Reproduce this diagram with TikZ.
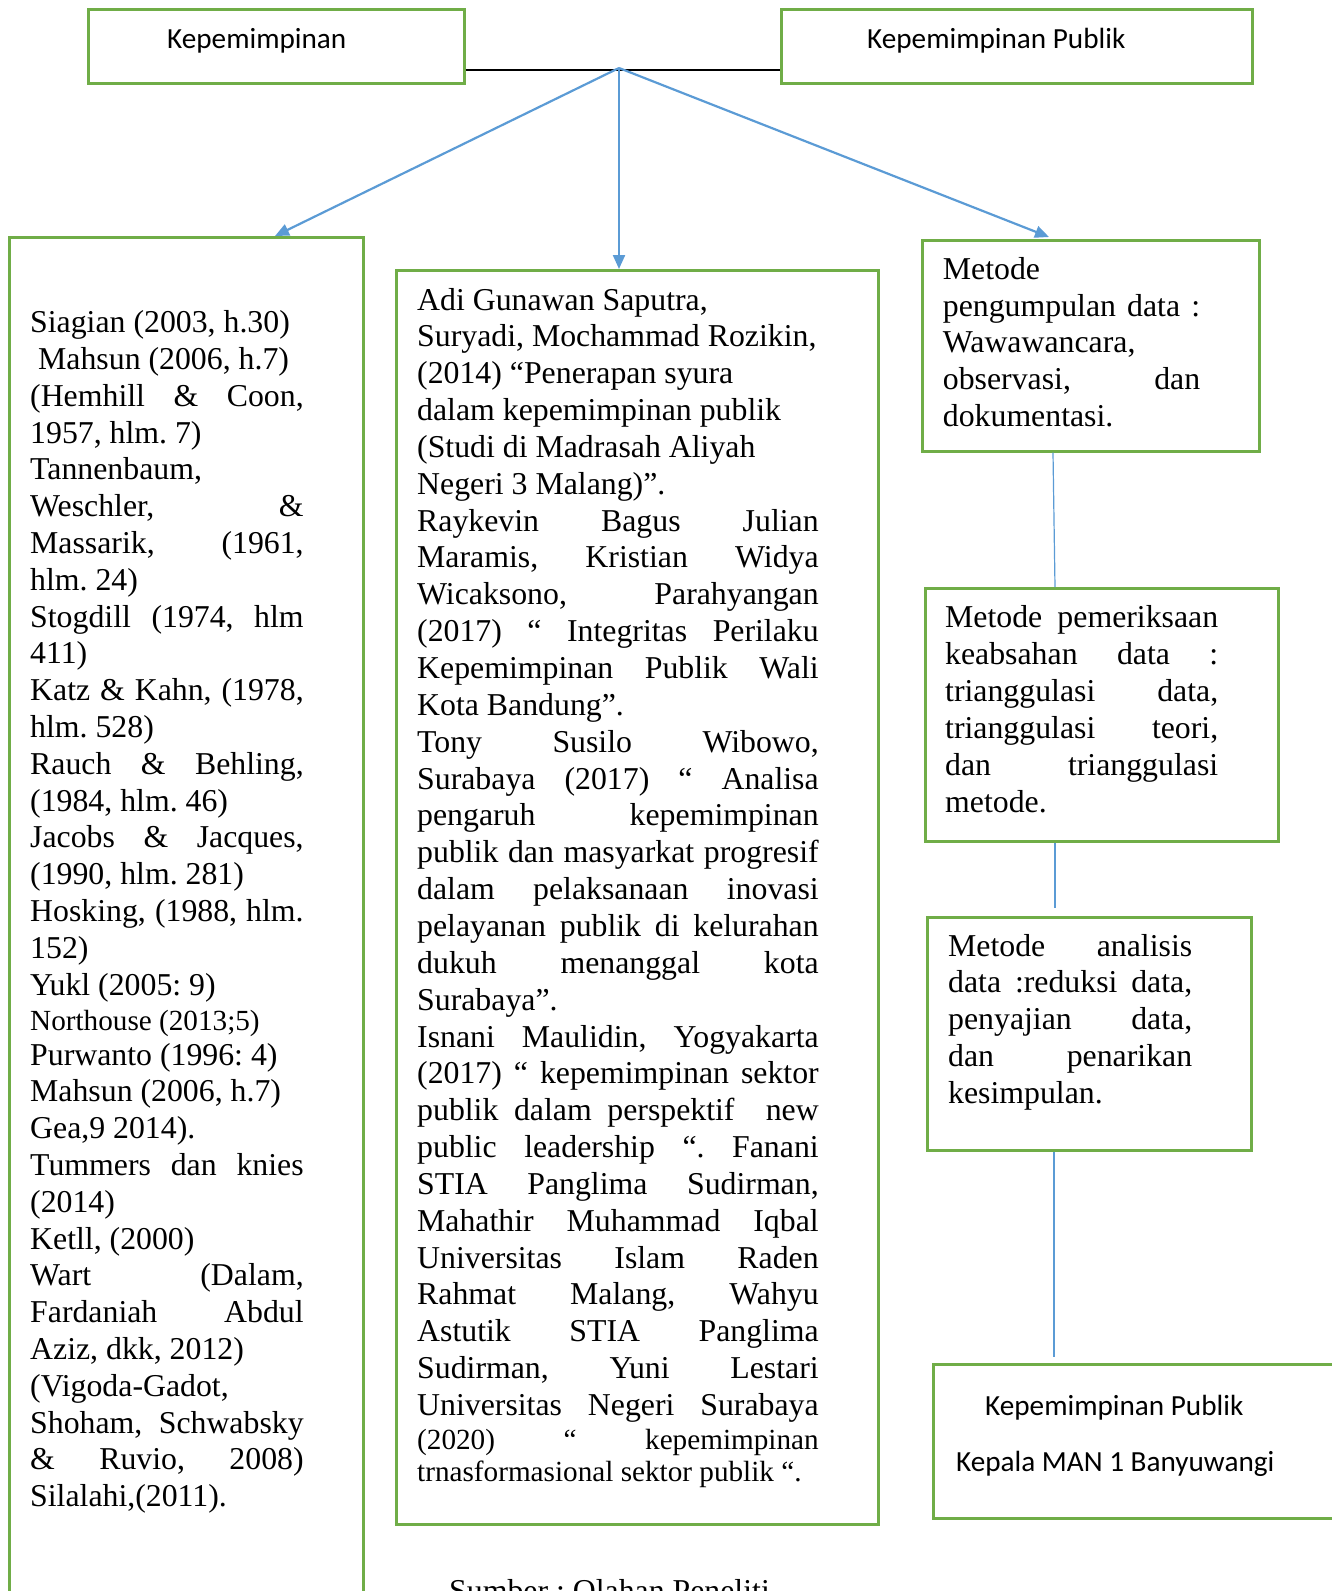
\documentclass[tikz,border=0pt]{standalone}
\usepackage{fontspec}
\setmainfont{Liberation Serif}
\newfontfamily\calfont{Carlito}
\usetikzlibrary{arrows.meta,calc}
\definecolor{bgreen}{HTML}{70AD47}
\definecolor{lblue}{HTML}{5B9BD5}
\frenchspacing
\newcommand\jl[1]{\makebox[\linewidth][s]{#1}\par}
\newcommand\lf[1]{\makebox[\linewidth][l]{#1}\par}
\newcommand\tnr{\fontsize{31.8}{36.8}\selectfont\frenchspacing}
\newcommand\tsm{\fontsize{29.2}{33}\selectfont\frenchspacing}
\tikzset{
  gbox/.style={draw=bgreen, line width=2.6pt, rectangle, inner sep=0pt, anchor=north west},
  arr/.style={draw=lblue, line width=2.2pt, -{Triangle[length=14pt,width=12pt]}},
  conn/.style={draw=lblue, line width=1.2pt},
  txt/.style={inner sep=0pt, anchor=base west},
  ctxt/.style={inner sep=0pt, anchor=base west, font=\calfont\fontsize{29.2}{35}\selectfont}
}
\begin{document}
\begin{tikzpicture}[x=1pt,y=-1pt]
\useasboundingbox (0,0) rectangle (1332,1591);
\clip (0,0) rectangle (1332,1591);

% boxes
\node[gbox, minimum width=376pt, minimum height=74pt] (bK) at (87,8) {};
\node[gbox, minimum width=471pt, minimum height=74pt] (bKP) at (780,8) {};
\node[gbox, minimum width=354pt, minimum height=1374pt] (bL) at (8,236) {};
\node[gbox, minimum width=482pt, minimum height=1254pt] (bM) at (395,269) {};
\node[gbox, minimum width=337pt, minimum height=211pt] (bR1) at (921,239) {};
\node[gbox, minimum width=353pt, minimum height=253pt] (bR2) at (924,587) {};
\node[gbox, minimum width=324pt, minimum height=233pt] (bR3) at (926,916) {};
\node[gbox, minimum width=418pt, minimum height=154pt] (bR4) at (932,1363) {};

% connectors
\coordinate (J) at (619,68);
\draw[black, line width=1.4pt] ([yshift=14.5pt]bK.south east) -- ([yshift=14.5pt]bKP.south west);
\draw[arr] (J) -- ([xshift=267pt]bL.north west);
\draw[arr] (J) -- ([xshift=224pt]bM.north west);
\draw[arr] (J) -- ([xshift=128pt,yshift=2pt]bR1.north west);
\draw[conn] ([xshift=132pt]bR1.south west) -- ([xshift=131pt]bR2.north west);
\draw[conn, shorten >=8pt] ([xshift=131pt]bR2.south west) -- ([xshift=129pt]bR3.north west);
\draw[conn, shorten >=6pt] ([xshift=128pt]bR3.south west) -- ([xshift=122pt]bR4.north west);

% Calibri labels
\node[ctxt] (tK) at (167,48) {Kepemimpinan};
\node[ctxt] (tKP) at (867,48) {Kepemimpinan Publik};
\node[ctxt] (t4a) at (985,1415.5) {Kepemimpinan Publik};
\node[ctxt] (t4b) at (956,1471) {Kepala MAN 1 Banyuwangi};

% left box text
\node[txt] (tL) at (30,332.7) {\begin{minipage}[t]{273.5pt}\tnr
\lf{Siagian (2003, h.30)}
\lf{\hspace*{8pt}Mahsun (2006, h.7)}
\jl{(Hemhill \& Coon,}
\lf{1957, hlm. 7)}
\lf{Tannenbaum,}
\jl{Weschler, \&}
\jl{Massarik, (1961,}
\lf{hlm. 24)}
\jl{Stogdill (1974, hlm}
\lf{411)}
\jl{Katz \& Kahn, (1978,}
\lf{hlm. 528)}
\jl{Rauch \& Behling,}
\lf{(1984, hlm. 46)}
\jl{Jacobs \& Jacques,}
\lf{(1990, hlm. 281)}
\jl{Hosking, (1988, hlm.}
\lf{152)}
\lf{Yukl (2005: 9)}
\vspace{-1pt}
\lf{\tsm Northouse (2013;5)}
\vspace{-2.7pt}
\lf{Purwanto (1996: 4)}
\lf{Mahsun (2006, h.7)}
\lf{Gea,9 2014).}
\jl{Tummers dan knies}
\lf{(2014)}
\lf{Ketll, (2000)}
\jl{Wart (Dalam,}
\jl{Fardaniah Abdul}
\lf{Aziz, dkk, 2012)}
\lf{(Vigoda-Gadot,}
\jl{Shoham, Schwabsky}
\jl{\& Ruvio, 2008)}
\lf{Silalahi,(2011).}
\end{minipage}};

% middle box text
\node[txt] (tM) at (417,310) {\begin{minipage}[t]{401.5pt}\tnr\baselineskip=36.85pt
\lf{Adi Gunawan Saputra,}
\lf{Suryadi, Mochammad Rozikin,}
\lf{(2014) “Penerapan syura}
\lf{dalam kepemimpinan publik}
\lf{(Studi di Madrasah Aliyah}
\lf{Negeri 3 Malang)”.}
\jl{Raykevin Bagus Julian}
\jl{Maramis, Kristian Widya}
\jl{Wicaksono, Parahyangan}
\jl{(2017) “ Integritas Perilaku}
\jl{Kepemimpinan Publik Wali}
\lf{Kota Bandung”.}
\jl{Tony Susilo Wibowo,}
\jl{Surabaya (2017) “ Analisa}
\jl{pengaruh kepemimpinan}
\jl{publik dan masyarkat progresif}
\jl{dalam pelaksanaan inovasi}
\jl{pelayanan publik di kelurahan}
\jl{dukuh menanggal kota}
\lf{Surabaya”.}
\jl{Isnani Maulidin, Yogyakarta}
\jl{(2017) “ kepemimpinan sektor}
\jl{publik dalam perspektif \ new}
\jl{public leadership “. Fanani}
\jl{STIA Panglima Sudirman,}
\jl{Mahathir Muhammad Iqbal}
\jl{Universitas Islam Raden}
\jl{Rahmat Malang, Wahyu}
\jl{Astutik STIA Panglima}
\jl{Sudirman, Yuni Lestari}
\jl{Universitas Negeri Surabaya}
\vspace{-3pt}
\jl{\tsm (2020) “ kepemimpinan}
\vspace{-4.4pt}
\lf{\tsm trnasformasional sektor publik “.}
\end{minipage}};

% right boxes text
\node[txt] (tR1) at (942.7,279.3) {\begin{minipage}[t]{257.3pt}\tnr
\lf{Metode}
\jl{pengumpulan data :}
\lf{Wawawancara,}
\jl{observasi, dan}
\lf{dokumentasi.}
\end{minipage}};

\node[txt] (tR2) at (945,627.5) {\begin{minipage}[t]{273pt}\tnr\baselineskip=37pt
\jl{Metode pemeriksaan}
\jl{keabsahan data :}
\jl{trianggulasi data,}
\jl{trianggulasi teori,}
\jl{dan trianggulasi}
\lf{metode.}
\end{minipage}};

\node[txt] (tR3) at (948,956) {\begin{minipage}[t]{244pt}\tnr
\jl{Metode analisis}
\jl{data :reduksi data,}
\jl{penyajian data,}
\jl{dan penarikan}
\lf{kesimpulan.}
\end{minipage}};

% source line (cut off at the bottom edge)
\node[txt] (src) at (449,1601) {\tnr Sumber : Olahan Peneliti};
\end{tikzpicture}
\end{document}
